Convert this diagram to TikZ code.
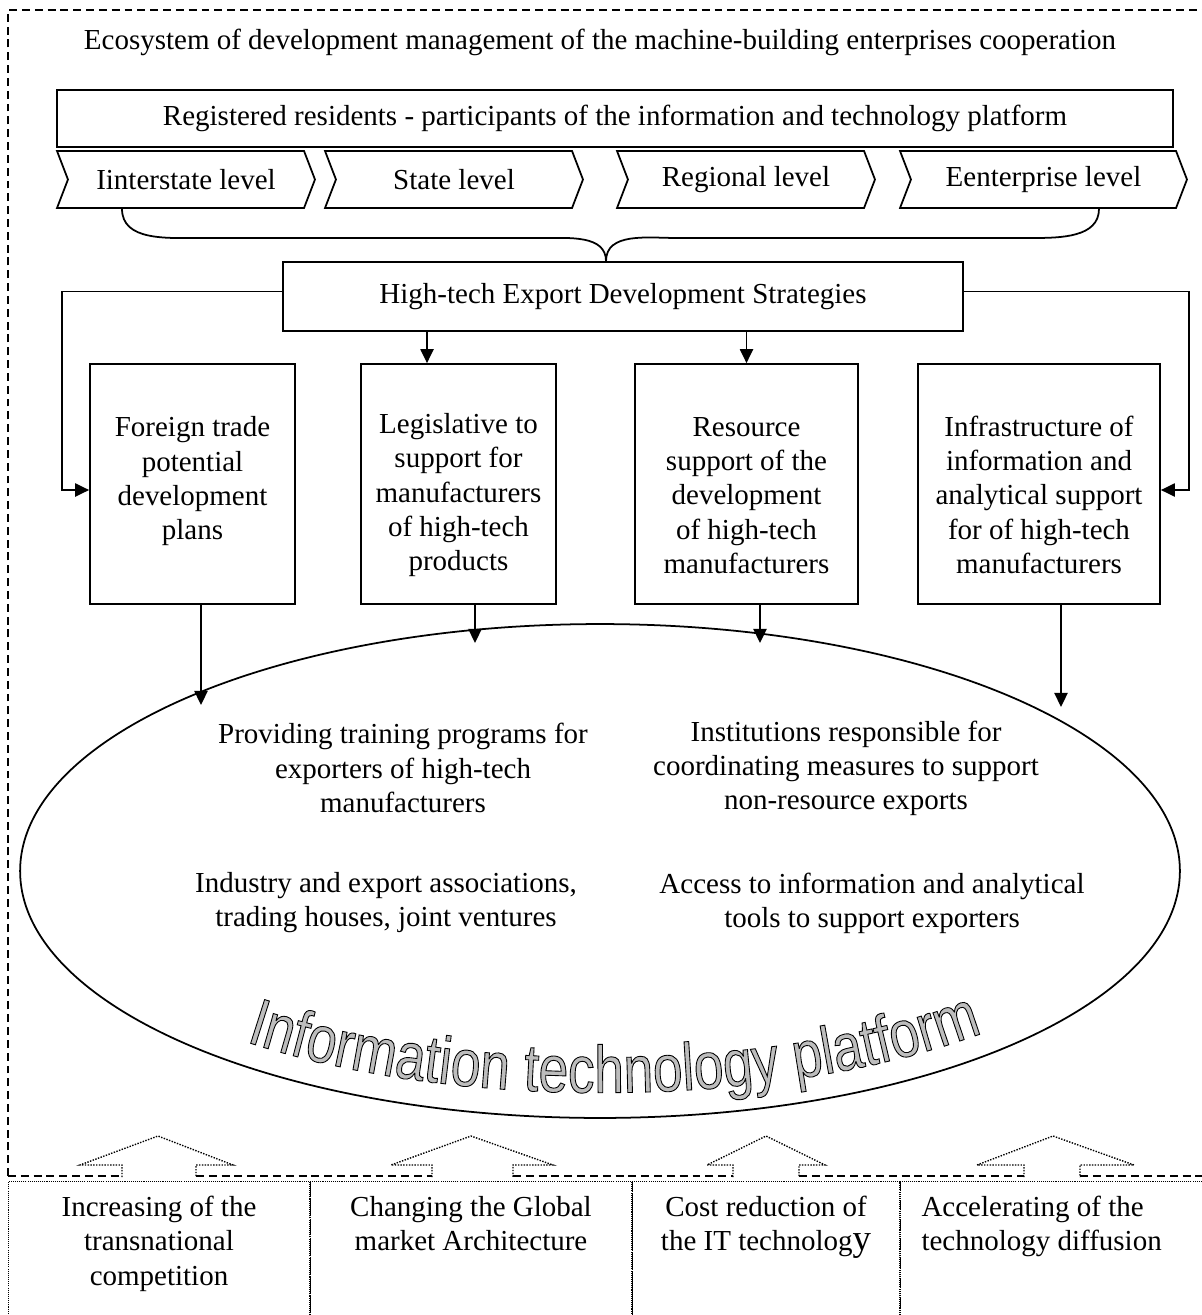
\documentclass[tikz,border=0pt]{standalone}
\usepackage{fontspec}
\setmainfont{Liberation Serif}
\newfontfamily\platformfont[FakeStretch=0.8]{Liberation Sans}
\usepackage{tikz}
\usetikzlibrary{arrows.meta,shapes.symbols,shapes.geometric,decorations.text,positioning}
\newcommand\mainsize{\fontsize{16.5}{19.4}\selectfont}
\newcommand\topgap{\rule{0pt}{24pt}}
\makeatletter
% outlined letters: grey fill, black stroke
\newcommand\outlined{\pgfsys@invoke{0 G 0.74 g 0.5 w 2 Tr}}
\makeatother
\tikzset{
    %Define standard arrow tip
    >={Triangle[length=8pt,width=7.5pt]},
    %Define style for boxes
    headbox/.style={
           rectangle,
           draw=black, line width=1pt,
           text centered},
    levelbox/.style={
           signal, signal from=west, signal to=east,
           signal pointer angle=138,
           draw=black, line width=1pt,
           minimum width=5.16cm,
           minimum height=1.14cm,
           inner sep=0pt},
    planbox/.style={
           rectangle,
           draw=black, line width=1pt,
           minimum height=4.8cm,
           inner xsep=2pt,
           align=center},
    innertext/.style={
           align=center},
    factorbox/.style={
           rectangle,
           draw=black, line width=0.6pt,
           dash pattern=on 0.6pt off 0.6pt,
           anchor=north,
           inner ysep=8.5pt,
           text depth=3cm,
           align=center},
    % Define arrow style
    pil/.style={
           ->,
           line width=1pt},
    frame/.style={
           line width=0.6pt,
           dash pattern=on 4.5pt off 2.8pt},
    uparrow/.style={
           line width=0.8pt,
           dash pattern=on 0.8pt off 0.8pt}
}
\begin{document}
\begin{tikzpicture}[x=0.02cm,y=-0.02cm,every node/.style={font=\mainsize}]
\useasboundingbox (0,0) rectangle (1201,1315);

 %outer frame
\draw[frame] (8,1176) -- (8,10) -- (1215,10);
\draw[frame] (8,1176) -- (122,1176) (196,1176) -- (432,1176)
    (513,1176) -- (733,1176) (799,1176) -- (1024,1176) (1080,1176) -- (1215,1176);

 %nodes
\node (title) at (600,42) {Ecosystem of development management of the machine-building enterprises cooperation};
\node[headbox, minimum width=22.32cm, minimum height=1.14cm] (reg) at (615,118.5)
    {Registered residents - participants of the information and technology platform};

\node[levelbox] (inter) at (186,179.5) {Iinterstate level};
\node[levelbox] (state) at (454,179.5) {State level};
\node[levelbox] (region) at (746,179.5) {Regional level};
\node[levelbox, minimum width=5.74cm] (ent) at (1043.5,179.5) {Eenterprise level};

\node[headbox, minimum width=13.6cm, minimum height=1.38cm] (hts) at (623,296.5)
    {High-tech Export Development Strategies};

\node[planbox, minimum width=4.1cm] (fore) at (192.5,484)
    {\topgap Foreign trade\\ potential\\ development\\ plans\\ ~};
\node[planbox, minimum width=3.9cm] (leg) at (458.5,484)
    {\topgap Legislative to\\ support for\\ manufacturers\\ of high-tech\\ products};
\node[planbox, minimum width=4.46cm] (res) at (746.5,484)
    {\topgap Resource\\ support of the\\ development\\ of high-tech\\ manufacturers};
\node[planbox, minimum width=4.84cm] (infra) at (1039,484)
    {\topgap Infrastructure of\\ information and\\ analytical support\\ for of high-tech\\ manufacturers};

\node[ellipse, draw, line width=1pt, minimum width=23.2cm, minimum height=9.88cm, inner sep=0pt] (itp) at (600,871) {};

\node[innertext] (train) at (403,768) {Providing training programs for\\ exporters of high-tech\\ manufacturers};
\node[innertext] (inst) at (846,768) {Institutions responsible for\\ coordinating measures to support\\ non-resource exports};
\node[innertext] (assoc) at (386,903) {Industry and export associations,\\ trading houses, joint ventures};
\node[innertext] (access) at (872,903) {Access to information and analytical\\ tools to support exporters};

\node[factorbox, minimum width=6.04cm] (f1) at (159,1181) {Increasing of the\\ transnational\\ competition};
\node[factorbox, minimum width=6.44cm] (f2) at (471,1181) {Changing the Global\\ market Architecture};
\node[factorbox, minimum width=5.36cm] (f3) at (766,1181) {Cost reduction of\\ the IT technolog{\fontsize{21}{19.4}\selectfont y}};
\node[factorbox, anchor=north west, minimum width=6.2cm, inner xsep=0.42cm, text width=5.36cm, align=flush left] (f4) at (900,1181)
    {Accelerating of the\\ technology diffusion};

 %brace
\coordinate (tip) at ([xshift=-0.34cm]hts.north);
\draw[line width=1pt] ([xshift=-1.28cm]inter.south) to[out=-90,in=180] (199,238) -- (543,238)
    to[out=0,in=90] (tip) to[out=90,in=180] (677,238) -- (1032,238)
    to[out=0,in=-90] ([xshift=1.11cm]ent.south);

 %arrows
\draw[pil] ([yshift=0.1cm]hts.west) -- ++(-220,0) |- ([yshift=-0.12cm]fore.west);
\draw[pil] ([yshift=0.1cm]hts.east) -- ++(225,0) |- ([yshift=-0.12cm]infra.east);
\draw[pil] ([xshift=-0.63cm]leg.north |- hts.south) -- ([xshift=-0.63cm]leg.north);
\draw[pil] (res.north |- hts.south) -- (res.north);

\coordinate (e1) at (201,705);
\coordinate (e2) at (475,643);
\coordinate (e3) at (760,643);
\coordinate (e4) at (1061,707);
\draw[pil] (fore.south -| e1) -- (e1);
\draw[pil] (leg.south -| e2) -- (e2);
\draw[pil] (res.south -| e3) -- (e3);
\draw[pil] (infra.south -| e4) -- (e4);

 %up arrows
\draw[uparrow] (122,1177) -- (122,1165) -- (80,1165) -- (158,1136) -- (233,1165) -- (196,1165) -- (196,1177);
\draw[uparrow] (432,1177) -- (432,1165) -- (391,1165) -- (471,1136) -- (553,1165) -- (513,1165) -- (513,1177);
\draw[uparrow] (733,1177) -- (733,1165) -- (707,1165) -- (766,1136) -- (825,1165) -- (799,1165) -- (799,1177);
\draw[uparrow] (1024,1177) -- (1024,1165) -- (977,1165) -- (1053,1136) -- (1134,1165) -- (1080,1165) -- (1080,1177);

 %curved title
\begin{scope}
\path[decorate, decoration={text along path, text align=center,
    text={|\platformfont\fontsize{38}{44}\selectfont\outlined|Information technology platform}}]
    (232,1037) arc[start angle=131.5, end angle=45, x radius=558, y radius=222];
\end{scope}

\end{tikzpicture}
\end{document}
